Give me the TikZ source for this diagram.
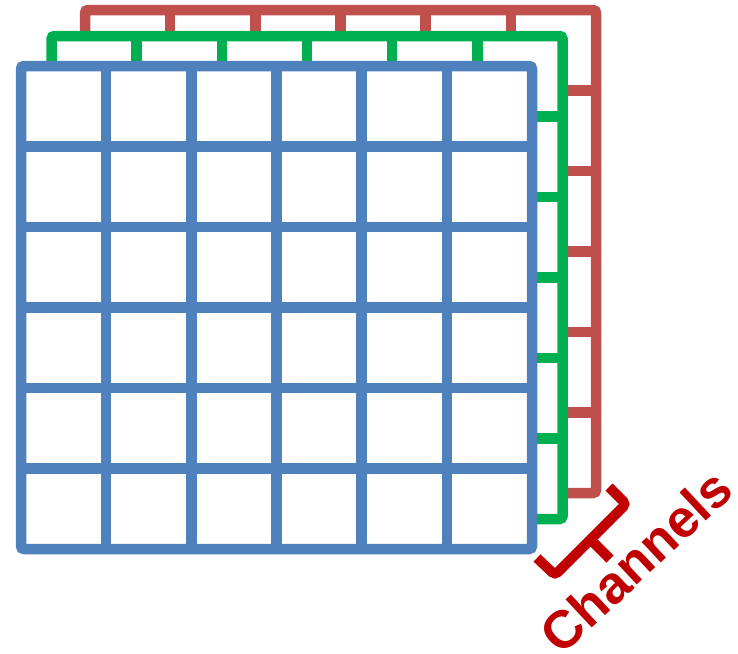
\documentclass[tikz,border=0pt]{standalone}
\usepackage{fontspec}
\setmainfont{Liberation Sans}
\usetikzlibrary{positioning}
\definecolor{chblue}{HTML}{4F81BD}
\definecolor{chgreen}{HTML}{00B050}
\definecolor{chred}{HTML}{C0504D}
\definecolor{bracered}{HTML}{C00000}

\begin{document}
\begin{tikzpicture}[x=1pt, y=-1pt,
    gridline/.style={line width=10.5pt},
    channelbrace/.style={bracered, line width=10pt, rounded corners=4pt}]
\useasboundingbox (0,0) rectangle (738,653);
% three channels, back to front
\foreach \dx/\dy/\col in {64/-56/chred, 30.5/-30/chgreen, 0/0/chblue}{
  \begin{scope}[shift={(\dx,\dy)}]
    \fill[white] (21,66) rectangle (532,549);
    \foreach \i in {1,...,5}{
      \draw[gridline, \col] ({21+\i*511/6},66) -- ({21+\i*511/6},549);
      \draw[gridline, \col] (21,{66+\i*80.5}) -- (532,{66+\i*80.5});
    }
    \draw[gridline, \col, rounded corners=3pt] (21,66) rectangle (532,549);
  \end{scope}
}
% brace
\coordinate (bmid) at (590.5,539.5);
\coordinate (btip) at (610,559);
\draw[channelbrace] (537,558) -- (555,575) -- (626,504) -- (609,487);
\draw[channelbrace] (bmid) -- (btip);
\node[bracered, font=\bfseries\fontsize{53}{53}\selectfont, rotate=43,
      inner sep=0pt] (channels) at (636,561) {Channels};
\end{tikzpicture}
\end{document}
